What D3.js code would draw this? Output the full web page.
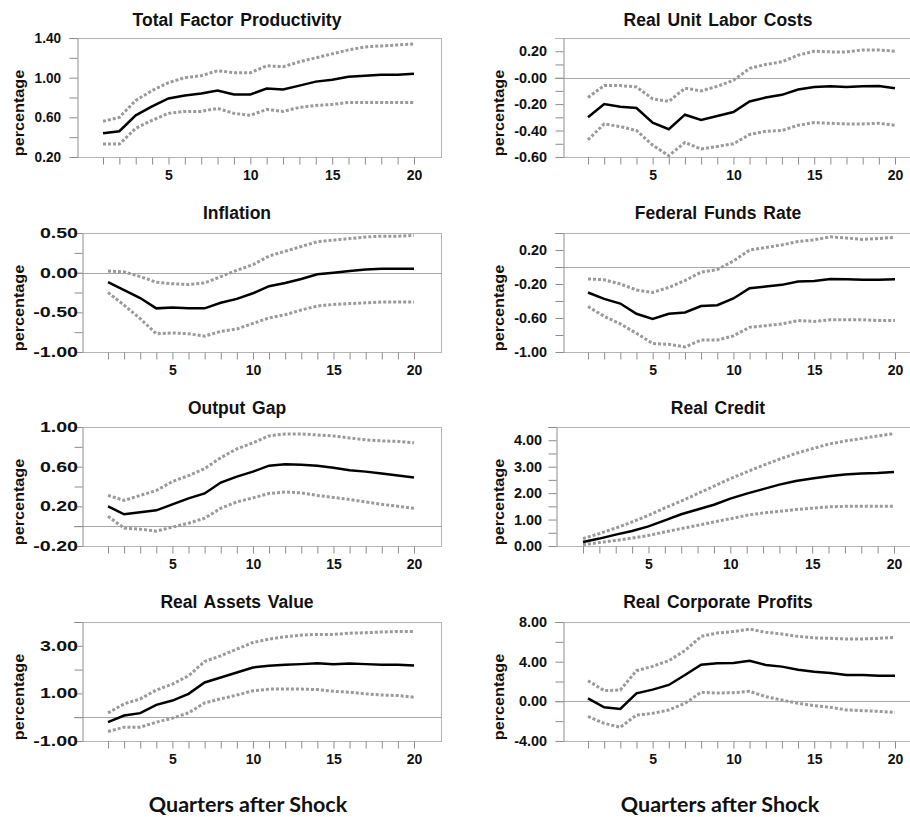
<!DOCTYPE html>
<html>
<head>
<meta charset="utf-8">
<script src="https://cdn.jsdelivr.net/npm/d3@7"></script>
<style>
    body { margin: 0; background: #fff; }
    svg { display: block; }
    .title { font-family: "Liberation Sans", Arial, sans-serif; font-weight: bold; font-size: 17.5px; word-spacing: 2px; fill: #111; }
    .ylab { font-family: "Liberation Sans", Arial, sans-serif; font-weight: bold; font-size: 14.5px; fill: #111; }
    .tick-label { font-family: "Liberation Sans", Arial, sans-serif; font-weight: bold; font-size: 14px; fill: #111; }
    .xaxis text { font-family: "Liberation Sans", Arial, sans-serif; font-weight: bold; font-size: 14px; fill: #111; }
    .axis line, .axis path { stroke: #8c8c8c; }
    .frame { stroke: #b4b4b4; stroke-width: 1; }
    .zero { stroke: #a8a8a8; stroke-width: 1; }
    .band { fill: none; stroke: #9a9a9a; stroke-width: 3; stroke-dasharray: 3 2; }
    .mid { fill: none; stroke: #000; stroke-width: 2.5; }
    .xtitle { font-family: Lato, "Open Sans", sans-serif; font-weight: bold; font-size: 21.5px; fill: #111; }
</style>
</head>
<body>
<div id="chart"></div>
<script>
// quarters after the shock
const quarters = [1, 2, 3, 4, 5, 6, 7, 8, 9, 10, 11, 12, 13, 14, 15, 16, 17, 18, 19, 20];

// Total Factor Productivity
const tfpMid = [0.44, 0.46, 0.62, 0.71, 0.79, 0.82, 0.84, 0.87, 0.83, 0.83, 0.89, 0.88, 0.92, 0.96, 0.98, 1.01, 1.02, 1.03, 1.03, 1.04];
const tfpHi  = [0.56, 0.60, 0.77, 0.87, 0.95, 1.00, 1.02, 1.07, 1.05, 1.05, 1.12, 1.11, 1.16, 1.20, 1.24, 1.28, 1.31, 1.32, 1.33, 1.34];
const tfpLo  = [0.33, 0.33, 0.49, 0.57, 0.64, 0.66, 0.66, 0.69, 0.64, 0.62, 0.68, 0.66, 0.70, 0.72, 0.73, 0.75, 0.75, 0.75, 0.75, 0.75];

// Real Unit Labor Costs
const rulcMid = [-0.30, -0.20, -0.22, -0.23, -0.34, -0.39, -0.28, -0.32, -0.29, -0.26, -0.18, -0.15, -0.13, -0.09, -0.07, -0.065, -0.07, -0.065, -0.063, -0.08];
const rulcHi  = [-0.15, -0.06, -0.06, -0.07, -0.16, -0.18, -0.08, -0.10, -0.065, -0.02, 0.07, 0.10, 0.12, 0.17, 0.20, 0.195, 0.195, 0.21, 0.21, 0.20];
const rulcLo  = [-0.47, -0.35, -0.37, -0.40, -0.51, -0.59, -0.49, -0.54, -0.52, -0.50, -0.43, -0.405, -0.40, -0.36, -0.34, -0.345, -0.35, -0.35, -0.345, -0.36];

// Inflation
const inflMid = [-0.12, -0.22, -0.32, -0.45, -0.44, -0.45, -0.45, -0.38, -0.33, -0.26, -0.17, -0.13, -0.08, -0.02, 0.00, 0.02, 0.04, 0.05, 0.05, 0.05];
const inflHi  = [0.02, 0.01, -0.05, -0.12, -0.14, -0.15, -0.13, -0.05, 0.03, 0.10, 0.21, 0.27, 0.33, 0.39, 0.41, 0.43, 0.45, 0.46, 0.46, 0.47];
const inflLo  = [-0.25, -0.41, -0.58, -0.77, -0.76, -0.77, -0.80, -0.74, -0.71, -0.64, -0.57, -0.53, -0.47, -0.42, -0.40, -0.39, -0.38, -0.37, -0.37, -0.37];

// Federal Funds Rate
const ffrMid = [-0.30, -0.375, -0.43, -0.55, -0.61, -0.55, -0.535, -0.46, -0.45, -0.37, -0.25, -0.23, -0.21, -0.17, -0.165, -0.14, -0.145, -0.15, -0.15, -0.145];
const ffrHi  = [-0.14, -0.15, -0.20, -0.27, -0.30, -0.24, -0.16, -0.06, -0.03, 0.07, 0.20, 0.23, 0.26, 0.30, 0.32, 0.355, 0.34, 0.325, 0.335, 0.35];
const ffrLo  = [-0.465, -0.58, -0.67, -0.78, -0.90, -0.91, -0.94, -0.86, -0.86, -0.81, -0.71, -0.69, -0.67, -0.63, -0.64, -0.62, -0.62, -0.62, -0.63, -0.63];

// Output Gap
const gapMid = [0.20, 0.12, 0.14, 0.16, 0.22, 0.28, 0.33, 0.44, 0.50, 0.55, 0.61, 0.625, 0.62, 0.61, 0.59, 0.565, 0.55, 0.53, 0.51, 0.49];
const gapHi  = [0.31, 0.26, 0.31, 0.36, 0.45, 0.51, 0.58, 0.69, 0.78, 0.84, 0.91, 0.93, 0.93, 0.92, 0.91, 0.89, 0.87, 0.86, 0.855, 0.84];
const gapLo  = [0.10, -0.02, -0.03, -0.05, -0.01, 0.03, 0.08, 0.18, 0.245, 0.285, 0.33, 0.345, 0.335, 0.31, 0.29, 0.27, 0.245, 0.22, 0.20, 0.18];

// Real Credit
const credMid = [0.15, 0.28, 0.43, 0.57, 0.74, 0.97, 1.20, 1.38, 1.56, 1.79, 1.98, 2.15, 2.32, 2.46, 2.55, 2.64, 2.70, 2.74, 2.76, 2.80];
const credHi  = [0.28, 0.47, 0.68, 0.91, 1.16, 1.44, 1.70, 1.98, 2.26, 2.55, 2.80, 3.05, 3.28, 3.50, 3.68, 3.85, 3.97, 4.06, 4.16, 4.25];
const credLo  = [0.05, 0.13, 0.21, 0.30, 0.40, 0.53, 0.66, 0.78, 0.91, 1.03, 1.16, 1.25, 1.31, 1.38, 1.43, 1.48, 1.50, 1.50, 1.50, 1.50];

// Real Assets Value
const assetMid = [-0.21, 0.07, 0.17, 0.52, 0.70, 0.98, 1.46, 1.67, 1.88, 2.09, 2.16, 2.20, 2.23, 2.27, 2.23, 2.26, 2.23, 2.20, 2.20, 2.17];
const assetHi  = [0.18, 0.56, 0.77, 1.14, 1.39, 1.74, 2.34, 2.58, 2.86, 3.14, 3.28, 3.38, 3.45, 3.48, 3.48, 3.53, 3.55, 3.58, 3.60, 3.60];
const assetLo  = [-0.60, -0.42, -0.42, -0.21, -0.04, 0.18, 0.60, 0.77, 0.93, 1.11, 1.18, 1.18, 1.18, 1.16, 1.09, 1.05, 0.98, 0.93, 0.91, 0.84];

// Real Corporate Profits
const profMid = [0.30, -0.60, -0.77, 0.81, 1.18, 1.65, 2.66, 3.70, 3.83, 3.87, 4.10, 3.66, 3.50, 3.19, 2.99, 2.86, 2.66, 2.66, 2.59, 2.59];
const profHi  = [2.08, 1.08, 1.14, 3.09, 3.53, 4.10, 5.11, 6.55, 6.89, 7.03, 7.29, 6.96, 6.79, 6.55, 6.39, 6.35, 6.29, 6.29, 6.35, 6.45];
const profLo  = [-1.51, -2.22, -2.62, -1.38, -1.21, -0.87, -0.20, 0.91, 0.84, 0.87, 1.01, 0.47, 0.13, -0.20, -0.44, -0.61, -0.87, -0.94, -1.01, -1.11];

// y axis tick values / labels per panel
const tfpTicks = [0.2, 0.4, 0.6, 0.8, 1.0, 1.2, 1.4];
const tfpMajor = [1.4, 1.0, 0.6, 0.2];
const tfpLabels = ['1.40', '1.00', '0.60', '0.20'];

const rulcTicks = [-0.6, -0.5, -0.4, -0.3, -0.2, -0.1, 0.0, 0.1, 0.2];
const rulcMajor = [0.2, 0.0, -0.2, -0.4, -0.6];
const rulcLabels = ['0.20', '-0.00', '-0.20', '-0.40', '-0.60'];

const inflTicks = [-1.0, -0.75, -0.5, -0.25, 0.0, 0.25, 0.5];
const inflMajor = [0.5, 0.0, -0.5, -1.0];
const inflLabels = ['0.50', '0.00', '-0.50', '-1.00'];

const ffrTicks = [-1.0, -0.8, -0.6, -0.4, -0.2, 0.0, 0.2, 0.4];
const ffrMajor = [0.2, -0.2, -0.6, -1.0];
const ffrLabels = ['0.20', '-0.20', '-0.60', '-1.00'];

const gapTicks = [-0.2, 0.0, 0.2, 0.4, 0.6, 0.8, 1.0];
const gapMajor = [1.0, 0.6, 0.2, -0.2];
const gapLabels = ['1.00', '0.60', '0.20', '-0.20'];

const credTicks = [0, 0.5, 1, 1.5, 2, 2.5, 3, 3.5, 4, 4.5];
const credMajor = [4, 3, 2, 1, 0];
const credLabels = ['4.00', '3.00', '2.00', '1.00', '0.00'];

const assetTicks = [-1, 0, 1, 2, 3, 4];
const assetMajor = [3, 1, -1];
const assetLabels = ['3.00', '1.00', '-1.00'];

const profTicks = [-4, -2, 0, 2, 4, 6, 8];
const profMajor = [8, 4, 0, -4];
const profLabels = ['8.00', '4.00', '0.00', '-4.00'];

const xLabelTicks = [5, 10, 15, 20];

const panels = [
    { title: 'Total Factor Productivity', mid: tfpMid, hi: tfpHi, lo: tfpLo, domain: [0.2, 1.4], ticks: tfpTicks, major: tfpMajor, labels: tfpLabels },
    { title: 'Real Unit Labor Costs', mid: rulcMid, hi: rulcHi, lo: rulcLo, domain: [-0.6, 0.3], ticks: rulcTicks, major: rulcMajor, labels: rulcLabels },
    { title: 'Inflation', mid: inflMid, hi: inflHi, lo: inflLo, domain: [-1.0, 0.5], ticks: inflTicks, major: inflMajor, labels: inflLabels },
    { title: 'Federal Funds Rate', mid: ffrMid, hi: ffrHi, lo: ffrLo, domain: [-1.0, 0.4], ticks: ffrTicks, major: ffrMajor, labels: ffrLabels },
    { title: 'Output Gap', mid: gapMid, hi: gapHi, lo: gapLo, domain: [-0.2, 1.0], ticks: gapTicks, major: gapMajor, labels: gapLabels },
    { title: 'Real Credit', mid: credMid, hi: credHi, lo: credLo, domain: [0, 4.5], ticks: credTicks, major: credMajor, labels: credLabels },
    { title: 'Real Assets Value', mid: assetMid, hi: assetHi, lo: assetLo, domain: [-1, 4], ticks: assetTicks, major: assetMajor, labels: assetLabels },
    { title: 'Real Corporate Profits', mid: profMid, hi: profHi, lo: profLo, domain: [-4, 8], ticks: profTicks, major: profMajor, labels: profLabels }
];

// panel boxes (pixel layout)
const rows = [
    { top: 38, bottom: 157, titleY: 26 },
    { top: 233, bottom: 352, titleY: 219 },
    { top: 427, bottom: 546, titleY: 414 },
    { top: 622, bottom: 741, titleY: 608 }
];
const boxes = [
    { left: 77, right: 442, x1: 103, x20: 414, labelEnd: 61, labelScale: 0.97 },
    { left: 563, right: 916, x1: 588, x20: 895, labelEnd: 547, labelScale: 1.03 },
    { left: 82, right: 442, x1: 108, x20: 414, labelEnd: 78, labelScale: 1.4 },
    { left: 563, right: 916, x1: 588, x20: 895, labelEnd: 547, labelScale: 1.03 },
    { left: 82, right: 442, x1: 108, x20: 414, labelEnd: 78, labelScale: 1.4 },
    { left: 556, right: 916, x1: 583, x20: 894, labelEnd: 542, labelScale: 1.03 },
    { left: 82, right: 442, x1: 108, x20: 414, labelEnd: 78, labelScale: 1.4 },
    { left: 563, right: 916, x1: 588, x20: 895, labelEnd: 547, labelScale: 1.03 }
];
const colCenter = [237, 718];
const yLabX = [19, 499];

const width = 910;
const height = 817;

const svg = d3.select('#chart')
    .append('svg')
    .attr('width', width)
    .attr('height', height);

panels.forEach((p, i) => {
    const col = i % 2;
    const row = rows[Math.floor(i / 2)];
    const box = boxes[i];
    const top = row.top;
    const bottom = row.bottom;

    const x = d3.scaleLinear().domain([1, 20]).range([box.x1, box.x20]);
    const y = d3.scaleLinear().domain(p.domain).range([bottom, top]);

    const g = svg.append('g');

    // title
    g.append('text')
        .attr('class', 'title')
        .attr('x', colCenter[col])
        .attr('y', row.titleY)
        .attr('text-anchor', 'middle')
        .text(p.title);

    // frame: top, right, bottom
    g.append('line').attr('class', 'frame')
        .attr('x1', box.left - 8).attr('x2', box.right)
        .attr('y1', top + 0.5).attr('y2', top + 0.5);
    g.append('line').attr('class', 'frame')
        .attr('x1', box.right - 0.5).attr('x2', box.right - 0.5)
        .attr('y1', top).attr('y2', bottom);
    g.append('line').attr('class', 'frame')
        .attr('x1', box.left).attr('x2', box.right)
        .attr('y1', bottom + 0.5).attr('y2', bottom + 0.5);

    // zero line
    if (p.domain[0] < 0 && p.domain[1] > 0) {
        g.append('line').attr('class', 'zero')
            .attr('x1', box.left - 8).attr('x2', box.right)
            .attr('y1', Math.round(y(0)) + 0.5).attr('y2', Math.round(y(0)) + 0.5);
    }

    // y axis ticks
    g.append('g')
        .attr('class', 'axis')
        .attr('transform', `translate(${box.left + 0.5},0)`)
        .call(d3.axisLeft(y).tickValues(p.ticks).tickSize(8).tickSizeOuter(0).tickFormat(''));

    // y tick labels (major only)
    g.selectAll('.tick-label')
        .data(p.major)
        .enter()
        .append('text')
        .attr('class', 'tick-label')
        .attr('text-anchor', 'end')
        .attr('dy', '0.36em')
        .attr('transform', (d) => `translate(${box.labelEnd},${y(d)}) scale(${box.labelScale},1)`)
        .text((d, k) => p.labels[k]);

    // x axis
    const xAxis = g.append('g')
        .attr('class', 'axis xaxis')
        .attr('transform', `translate(0,${bottom + 0.5})`)
        .call(d3.axisBottom(x).tickValues(quarters).tickSize(7).tickSizeOuter(0).tickPadding(6)
            .tickFormat((d) => (xLabelTicks.includes(d) ? d : '')));
    xAxis.select('.domain').remove();

    // y label
    g.append('text')
        .attr('class', 'ylab')
        .attr('text-anchor', 'middle')
        .attr('dominant-baseline', 'central')
        .attr('transform', `translate(${yLabX[col]},${bottom - 44}) rotate(-90) scale(1.12,1)`)
        .text('percentage');

    const line = d3.line()
        .x((d, k) => x(quarters[k]))
        .y((d) => y(d));

    g.append('path').attr('class', 'band').attr('d', line(p.hi));
    g.append('path').attr('class', 'band').attr('d', line(p.lo));
    g.append('path').attr('class', 'mid').attr('d', line(p.mid));
});

// bottom axis titles
[248, 720].forEach((cx) => {
    svg.append('text')
        .attr('class', 'xtitle')
        .attr('x', cx)
        .attr('y', 812)
        .attr('text-anchor', 'middle')
        .text('Quarters after Shock');
});
</script>
</body>
</html>
